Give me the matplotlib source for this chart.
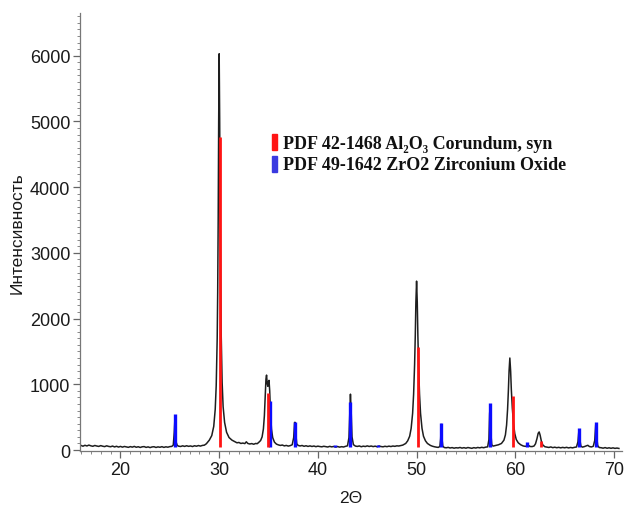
import numpy as np
import matplotlib.pyplot as plt
from matplotlib.ticker import MultipleLocator

trace = [
    (16.0, 70), (16.2, 58), (16.4, 72), (16.6, 62), (16.8, 75), (17.0, 64), (17.2, 57), (17.4, 69),
    (17.6, 61), (17.8, 55), (18.0, 67), (18.2, 58), (18.4, 52), (18.6, 64), (18.8, 55), (19.0, 50),
    (19.2, 60), (19.4, 47), (19.6, 57), (19.8, 45), (20.0, 55), (20.2, 44), (20.4, 54), (20.6, 47),
    (20.8, 41), (21.0, 52), (21.2, 44), (21.4, 55), (21.6, 42), (21.8, 50), (22.0, 39), (22.2, 49),
    (22.4, 52), (22.6, 40), (22.8, 48), (23.0, 37), (23.2, 47), (23.4, 50), (23.6, 39), (23.8, 48),
    (24.0, 42), (24.2, 51), (24.4, 40), (24.6, 49), (24.8, 43), (25.0, 52), (25.2, 55),
    (25.35, 75), (25.45, 270), (25.52, 490), (25.58, 310), (25.65, 115), (25.75, 70),
    (25.9, 58), (26.1, 54), (26.3, 64), (26.5, 55), (26.7, 65), (26.9, 56), (27.1, 62), (27.3, 53),
    (27.5, 65), (27.7, 58), (27.9, 68), (28.1, 60), (28.3, 70), (28.5, 74), (28.7, 95),
    (29.0, 150), (29.25, 220), (29.45, 360), (29.6, 620), (29.7, 980), (29.8, 1700), (29.85, 2400),
    (29.9, 3500), (29.95, 5000), (30.0, 6030), (30.05, 5050), (30.1, 3600), (30.15, 2500),
    (30.2, 1800), (30.3, 1030), (30.4, 660), (30.55, 420), (30.75, 270), (31.0, 190),
    (31.3, 150), (31.6, 125), (31.8, 110), (32.0, 115), (32.2, 100), (32.4, 106), (32.6, 98),
    (32.75, 125), (32.9, 100), (33.1, 92), (33.3, 98), (33.5, 88), (33.7, 100), (33.85, 96),
    (34.0, 115), (34.2, 145), (34.35, 200), (34.48, 320), (34.58, 520), (34.67, 820), (34.74, 1080),
    (34.8, 1140), (34.87, 1010), (34.93, 970), (35.0, 1040), (35.05, 1060), (35.12, 900),
    (35.2, 560), (35.3, 320), (35.42, 190), (35.6, 120), (35.8, 90), (36.0, 78), (36.2, 70),
    (36.4, 76), (36.6, 63), (36.8, 70), (37.0, 60), (37.2, 67), (37.4, 80),
    (37.55, 190), (37.64, 420), (37.7, 420), (37.77, 240), (37.86, 95),
    (38.0, 70), (38.2, 62), (38.4, 69), (38.6, 57), (38.8, 65), (39.0, 55), (39.2, 63), (39.4, 54),
    (39.6, 61), (39.8, 51), (40.0, 59), (40.2, 53), (40.4, 49), (40.6, 57), (40.8, 51), (41.0, 46),
    (41.2, 56), (41.4, 48), (41.6, 54), (41.8, 45), (42.0, 53), (42.2, 44), (42.4, 51), (42.6, 46),
    (42.8, 56), (43.0, 64), (43.15, 190), (43.24, 610), (43.3, 850), (43.37, 600), (43.46, 200),
    (43.6, 82), (43.8, 60), (44.0, 55), (44.2, 62), (44.4, 50), (44.6, 59), (44.8, 53), (45.0, 63),
    (45.2, 54), (45.4, 61), (45.6, 52), (45.8, 59), (46.0, 50), (46.2, 61), (46.4, 53), (46.6, 49),
    (46.8, 57), (47.0, 51), (47.2, 59), (47.4, 53), (47.6, 61), (47.8, 56), (48.0, 64), (48.2, 61),
    (48.4, 68), (48.6, 75), (48.9, 100), (49.1, 140), (49.3, 210), (49.45, 330), (49.6, 560),
    (49.7, 850), (49.8, 1300), (49.87, 1750), (49.93, 2250), (50.0, 2570), (50.07, 2250),
    (50.13, 1750), (50.2, 1300), (50.3, 850), (50.4, 560), (50.55, 330), (50.7, 210), (50.9, 140),
    (51.1, 100), (51.4, 70), (51.6, 58), (51.8, 50), (52.0, 44), (52.2, 40), (52.36, 55),
    (52.44, 170), (52.5, 390), (52.57, 180), (52.66, 60), (52.8, 38), (53.0, 34), (53.2, 40),
    (53.4, 31), (53.6, 37), (53.8, 28), (54.0, 35), (54.2, 31), (54.4, 39), (54.6, 29), (54.8, 36),
    (55.0, 28), (55.2, 38), (55.4, 32), (55.6, 26), (55.8, 36), (56.0, 30), (56.2, 39), (56.4, 33),
    (56.6, 41), (56.8, 35), (57.0, 44), (57.2, 48), (57.33, 160), (57.4, 550), (57.46, 690),
    (57.53, 250), (57.62, 80), (57.75, 60), (57.9, 65), (58.1, 72), (58.3, 80), (58.6, 100),
    (58.85, 150), (59.0, 230), (59.12, 380), (59.22, 620), (59.3, 900), (59.37, 1200),
    (59.45, 1400), (59.53, 1200), (59.6, 920), (59.7, 640), (59.82, 400), (59.95, 250),
    (60.1, 160), (60.3, 110), (60.55, 80), (60.8, 62), (61.0, 56), (61.15, 60), (61.25, 76),
    (61.35, 70), (61.5, 54), (61.7, 52), (61.9, 61), (62.05, 95), (62.2, 175), (62.32, 255),
    (62.42, 275), (62.52, 225), (62.65, 130), (62.8, 75), (63.0, 50), (63.2, 44), (63.4, 39),
    (63.6, 47), (63.8, 36), (64.0, 43), (64.2, 35), (64.4, 41), (64.6, 33), (64.8, 40), (65.0, 34),
    (65.2, 41), (65.4, 32), (65.6, 39), (65.8, 33), (66.0, 41), (66.2, 46), (66.35, 125),
    (66.45, 305), (66.55, 150), (66.65, 60), (66.8, 44), (67.0, 52), (67.2, 63), (67.35, 72),
    (67.5, 54), (67.7, 47), (67.9, 56), (68.05, 145), (68.15, 385), (68.25, 200), (68.35, 68),
    (68.5, 38), (68.7, 35), (68.9, 28), (69.1, 37), (69.3, 27), (69.5, 34), (69.7, 26),
    (69.9, 33), (70.1, 25), (70.3, 30), (70.5, 24),
]
two_theta = [p[0] for p in trace]
counts = [p[1] for p in trace]

# reference pattern sticks
al2o3_pos = [30.05, 34.92, 50.15, 59.72, 62.62]
al2o3_int = [4760, 870, 1570, 820, 140]
zro2_pos = [25.5, 35.12, 37.72, 41.7, 43.3, 46.1, 52.5, 57.45, 61.2, 66.45, 68.18]
zro2_int = [550, 745, 425, 75, 730, 70, 410, 715, 120, 335, 425]

fig = plt.figure(figsize=(6.25, 5.06), dpi=100)
ax = fig.add_axes([0.128, 0.1067, 0.867, 0.8656])

ax.plot(two_theta, counts, color='#1e1e1e', lw=1.1, zorder=2)
ax.vlines(zro2_pos, 50, zro2_int, color='#0c0cff', lw=2.4, zorder=3)
ax.vlines(al2o3_pos, 50, al2o3_int, color='#ff1414', lw=2.0, zorder=3)

ax.set_xlim(15.9, 70.8)
ax.set_ylim(-15, 6650)
ax.set_xticks([20, 30, 40, 50, 60, 70])
ax.set_yticks([0, 1000, 2000, 3000, 4000, 5000, 6000])
ax.xaxis.set_minor_locator(MultipleLocator(1))
ax.yaxis.set_minor_locator(MultipleLocator(100))

for s in ['top', 'right']:
    ax.spines[s].set_visible(False)
for s in ['left', 'bottom']:
    ax.spines[s].set_color('#777777')
    ax.spines[s].set_linewidth(0.9)

ax.tick_params(which='major', length=5, width=0.9, color='#666666',
               labelsize=13, labelcolor='#1a1a1a', pad=2)
ax.tick_params(which='minor', length=2.5, width=0.7, color='#888888')
for lab in ax.get_xticklabels() + ax.get_yticklabels():
    lab.set_family('Liberation Sans')

ax.set_ylabel('Интенсивность', family='Liberation Sans', fontsize=12.5, color='#1a1a1a', labelpad=4)
ax.set_xlabel('2Θ', family='Liberation Sans', fontsize=12.5, color='#1a1a1a', labelpad=9)

# legend drawn as coloured bars with serif text
fig.patches.append(plt.Rectangle((272 / 625, 1 - 151 / 506), 4.5 / 625, 16 / 506,
                                 color='#ff1414', transform=fig.transFigure))
fig.patches.append(plt.Rectangle((272 / 625, 1 - 173 / 506), 4.5 / 625, 16 / 506,
                                 color='#3a3ae0', transform=fig.transFigure))
fig.text(283 / 625, 1 - 149 / 506, 'PDF 42-1468 Al₂O₃ Corundum, syn',
         family=['Liberation Serif', 'DejaVu Serif'], fontweight='bold', fontsize=13, color='#111111')
fig.text(283 / 625, 1 - 170 / 506, 'PDF 49-1642 ZrO2 Zirconium Oxide',
         family=['Liberation Serif', 'DejaVu Serif'], fontweight='bold', fontsize=13, color='#111111')

fig.savefig('out.png', dpi=100)
